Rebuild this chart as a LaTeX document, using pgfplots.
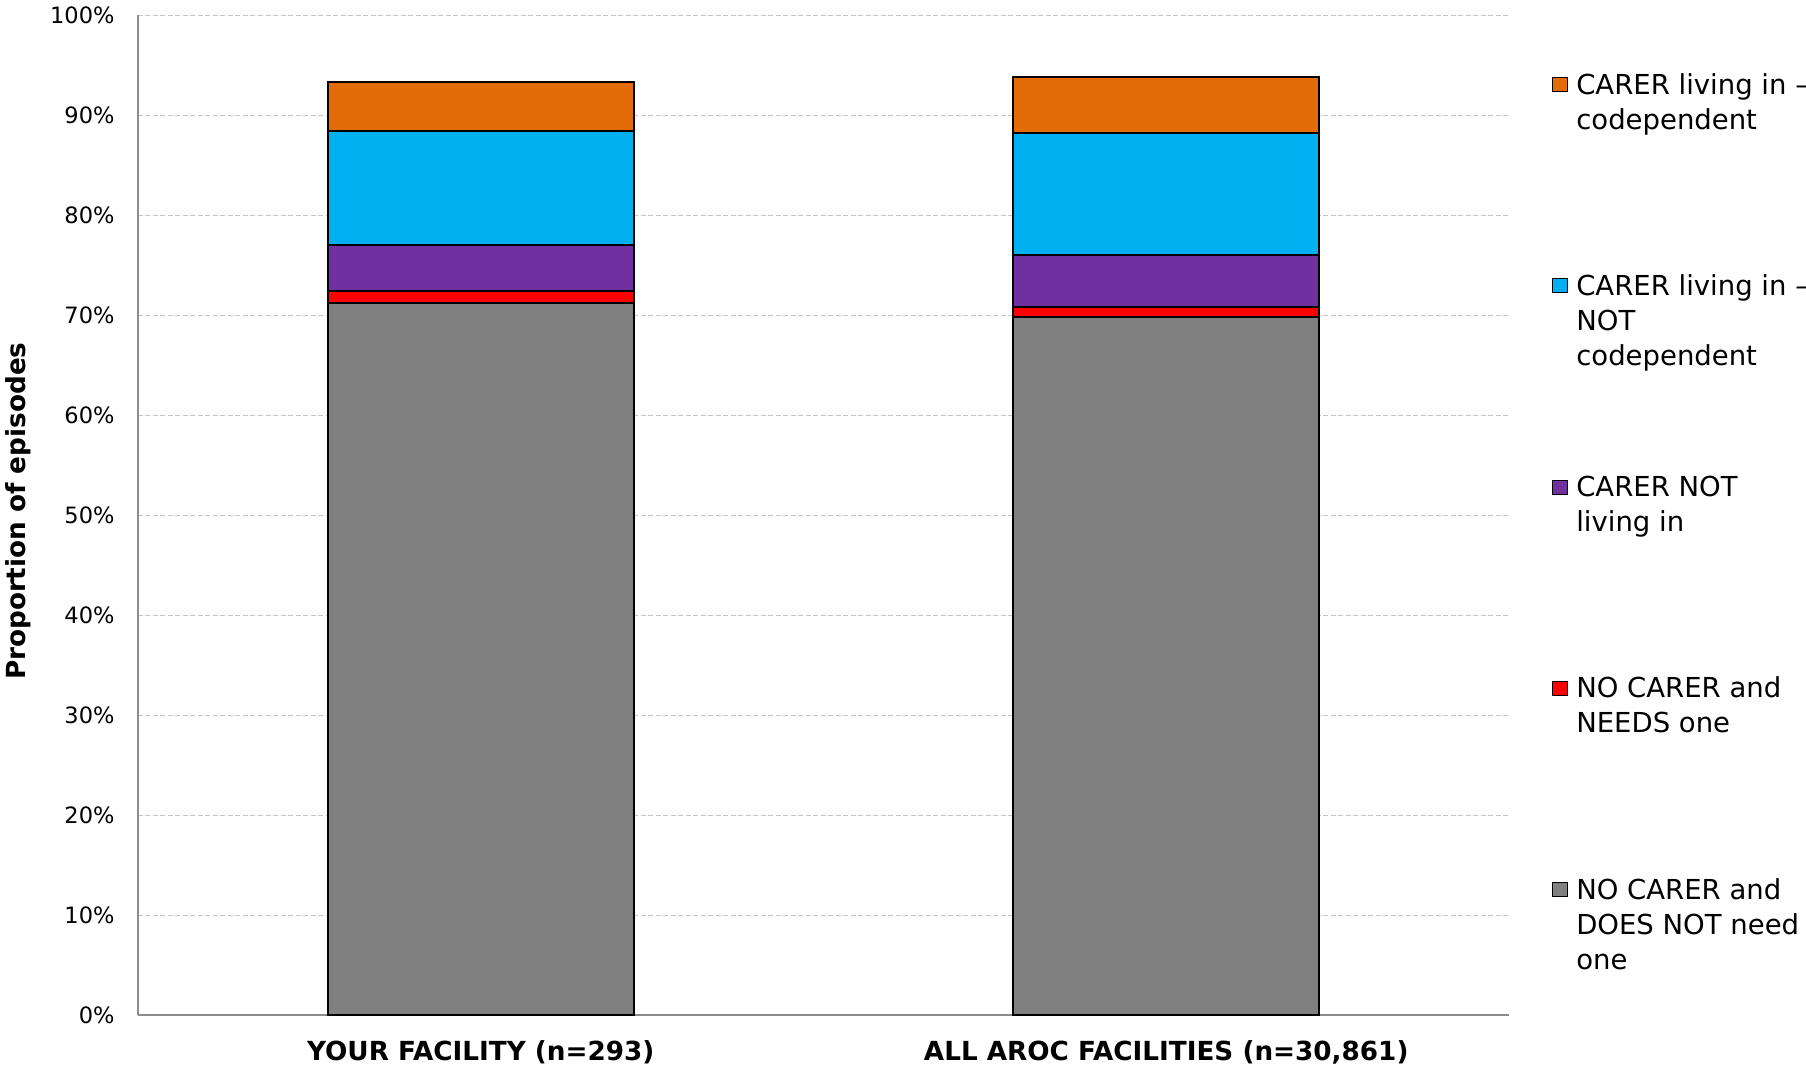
\documentclass[border=0pt]{standalone}
\usepackage{pgfplots}
\pgfplotsset{compat=1.18}
\usepackage{fontspec}
\setmainfont{DejaVu Sans}
\definecolor{cOrange}{HTML}{E36C09}
\definecolor{cCyan}{HTML}{00B0F0}
\definecolor{cPurple}{HTML}{7030A0}
\definecolor{cRed}{HTML}{FF0000}
\definecolor{cGray}{HTML}{808080}
\definecolor{gridc}{HTML}{C4C4C4}
\definecolor{axc}{HTML}{8C8C8C}
\pgfplotsset{mylegend/.style={legend image code/.code={\draw[##1,line width=0.4pt] (0pt,-2.8pt) rectangle (6.2pt,2.8pt);}}}
\newcommand{\lentry}[1]{\vtop{\baselineskip=14pt\relax #1}}
\newcommand{\fl}{\rule{0pt}{9pt}}
\begin{document}
\begin{tikzpicture}
\path[use as bounding box] (-55.2pt,-20.7pt) rectangle (667.2pt,406.1pt);
\begin{axis}[
  at={(0pt,0pt)}, anchor=south west,
  scale only axis, width=548.4pt, height=400pt,
  xmin=-0.5, xmax=1.5, ymin=0, ymax=100,
  ybar stacked, bar width=122.4pt,
  axis x line*=bottom, axis y line*=left,
  axis line style={draw=axc, line width=0.7pt},
  major tick length=0pt,
  xtick={0,1},
  xticklabels={YOUR FACILITY (n=293),{ALL AROC FACILITIES (n=30,861)}},
  ytick={0,10,...,100},
  yticklabels={0\%,10\%,20\%,30\%,40\%,50\%,60\%,70\%,80\%,90\%,100\%},
  ymajorgrids,
  grid style={dash pattern=on 2pt off 1pt, draw=gridc, line width=0.5pt},
  yticklabel style={font=\fontsize{9}{10.8}\selectfont, inner sep=0pt, xshift=-9.2pt, anchor=east},
  xticklabel style={font=\bfseries\fontsize{10.5}{12.6}\selectfont, inner sep=0pt, anchor=north, yshift=-10pt},
  ylabel={Proportion of episodes},
  ylabel style={font=\bfseries\fontsize{10.5}{12.6}\selectfont, at={(axis description cs:-0.0875,0.504)}, anchor=center},
  legend style={at={(1.0312,0.94875)}, anchor=north west, draw=none, fill=none,
    inner sep=0pt, outer sep=0pt, row sep=66pt,
    font=\fontsize{11}{14}\selectfont,
    /tikz/every odd column/.append style={column sep=1.2pt}},
  legend cell align=left,
  reverse legend,
  every axis plot/.append style={draw=black, line width=0.8pt},
]
\addplot[fill=cGray, mylegend] coordinates {(0,71.2) (1,69.8)};
\addlegendentry{\lentry{\hbox{\fl NO CARER and}\hbox{DOES NOT need}\hbox{one}}}
\addplot[fill=cRed, mylegend] coordinates {(0,1.2) (1,1.0)};
\addlegendentry{\lentry{\hbox{\fl NO CARER and}\hbox{NEEDS one}}}
\addplot[fill=cPurple, mylegend] coordinates {(0,4.6) (1,5.2)};
\addlegendentry{\lentry{\hbox{\fl CARER NOT}\hbox{living in}}}
\addplot[fill=cCyan, mylegend] coordinates {(0,11.4) (1,12.2)};
\addlegendentry{\lentry{\hbox{\fl CARER living in –}\hbox{NOT}\hbox{codependent}}}
\addplot[fill=cOrange, mylegend] coordinates {(0,4.9) (1,5.6)};
\addlegendentry{\lentry{\hbox{\fl CARER living in –}\hbox{codependent}}}
\end{axis}
\end{tikzpicture}
\end{document}
